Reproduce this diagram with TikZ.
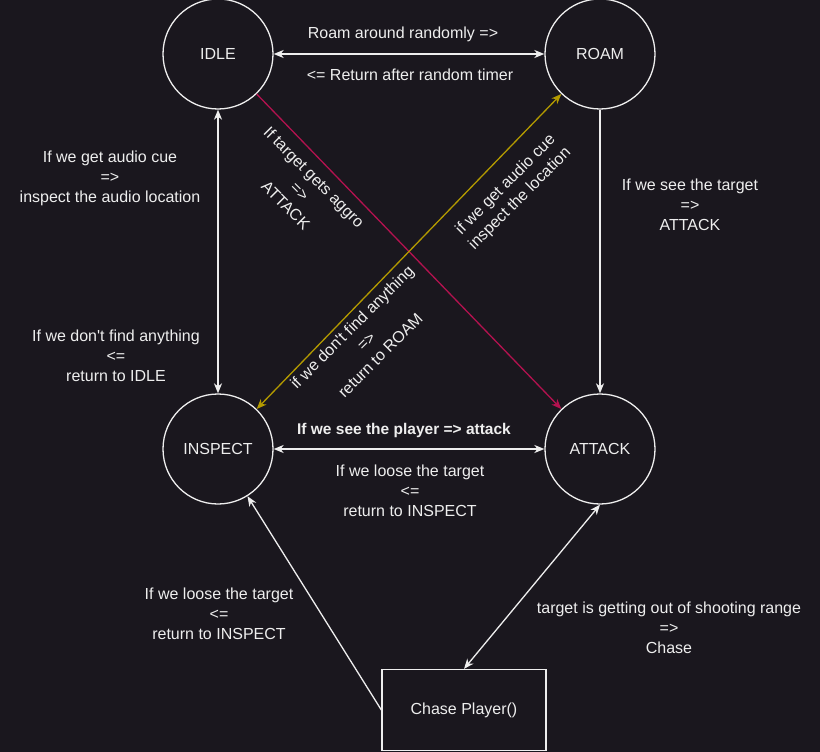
\documentclass[tikz,border=0pt]{standalone}
\usepackage{fontspec}
\setmainfont{Liberation Sans}
\usetikzlibrary{arrows.meta}
\definecolor{fond}{HTML}{1A171E}
\definecolor{trait}{HTML}{EEEEEE}
\definecolor{cramoisi}{HTML}{B3124F}
\definecolor{ocre}{HTML}{B39A00}

\begin{document}
\begin{tikzpicture}[x=1pt,y=-1pt,
	>={Stealth[length=10pt,width=8pt,inset=3pt]},
	etat/.style={circle,draw=trait,line width=1.3pt,minimum size=110pt,inner sep=0pt,text=trait,font=\fontsize{16}{20}\selectfont},
	boite/.style={rectangle,draw=trait,line width=1.3pt,minimum width=164pt,minimum height=81pt,text=trait,font=\fontsize{16}{20}\selectfont},
	lien/.style={draw=trait,line width=1.3pt},
	texte/.style={text=trait,align=center,inner sep=0pt,font=\fontsize{16}{20}\selectfont}]
				% Fond
				\fill [fond] (0,0) rectangle (820,752);
				\useasboundingbox (0,0) rectangle (820,752);
				% États
				\node [etat] (idle) at (218,54) {IDLE};
				\node [etat] (roam) at (600,54) {ROAM};
				\node [etat] (inspect) at (218,449) {INSPECT};
				\node [etat] (attack) at (600,449) {ATTACK};
				\node [boite] (chase) at (464,710) {Chase Player()};
				% Flèches
				\draw [lien,<->] (idle) -- (roam);
				\draw [lien,<->] (idle) -- (inspect);
				\draw [lien,->] (roam) -- (attack);
				\draw [lien,->,draw=cramoisi] (idle) -- (attack);
				\draw [lien,<->,draw=ocre] (inspect) -- (roam);
				\draw [lien,<->] (inspect) -- (attack);
				\draw [lien,->] (chase.west) -- (inspect.-58);
				\draw [lien,<->] (chase.north) -- (attack.south);
				% Textes
				\node [texte] (t-roam) at (403,34) {Roam around randomly =>};
				\node [texte] (t-timer) at (410,75) {<= Return after random timer};
				\node [texte] (t-audio) at (110,178) {If we get audio cue\\=>\\inspect the audio location};
				\node [texte] (t-idle) at (116,356) {If we don\textquotesingle t find anything\\<=\\return to IDLE};
				\node [texte] (t-see) at (690,205) {If we see the target\\=>\\ATTACK};
				\node [texte,rotate=-45] (t-aggro) at (300,191) {If target gets aggro\\=>\\ATTACK};
				\node [texte,rotate=45] (t-cue) at (513,192) {if we get audio cue\\inspect the location};
				\node [texte,rotate=45] (t-back) at (366,341) {if we don\textquotesingle t find anything\\=>\\return to ROAM};
				\node [texte,font=\fontsize{15.5}{20}\selectfont\bfseries] (t-player) at (404,430) {If we see the player => attack};
				\node [texte] (t-loose) at (410,491) {If we loose the target\\<=\\return to INSPECT};
				\node [texte] (t-loose2) at (219,614) {If we loose the target\\<=\\return to INSPECT};
				\node [texte] (t-range) at (669,628) {target is getting out of shooting range\\=>\\Chase};
\end{tikzpicture}
\end{document}
